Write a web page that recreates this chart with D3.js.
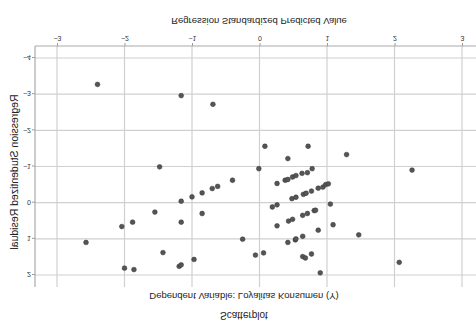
<!DOCTYPE html>
<html>
<head>
<meta charset="utf-8">
<script src="https://cdn.jsdelivr.net/npm/d3@7"></script>
<style>
  body { margin: 0; background: #fff; }
  text { font-family: "Liberation Sans", Arial, sans-serif; fill: #222; }
</style>
</head>
<body>
<svg id="vis" width="476" height="322"></svg>
<script>
var W = 476, H = 322;

// values
var predicted = [-2.40, -1.16, -0.69, -1.48, 0.08, 0.72, 0.42, 1.29, -0.01, 0.78,
                 2.26, -0.40, -0.62, -0.70, -0.85, -1.00, -1.16, -1.55, -0.85, -1.88,
                 -1.16, -2.04, -2.57, -0.25, -1.43, -0.06, -0.97, -2.00, -1.86, -1.19,
                 -1.16, 0.26, 0.38, 0.42, 0.49, 0.54, 0.63, 0.71, 1.05, 0.48,
                 0.54, 0.65, 0.69, 0.77, 0.87, 0.94, 0.98, 1.02, 0.19, 0.26,
                 0.64, 0.71, 0.81, 0.83, 0.43, 0.49, 0.26, 1.09, 0.87, 1.47,
                 0.42, 0.53, 0.54, 0.64, 0.06, 0.64, 0.68, 0.77, 0.90, 2.07];
var residual = [-3.27, -2.96, -2.72, -0.99, -1.56, -1.56, -1.22, -1.33, -0.94, -0.94,
                -0.90, -0.62, -0.45, -0.39, -0.27, -0.16, -0.04, 0.26, 0.30, 0.54,
                0.54, 0.66, 1.10, 1.01, 1.38, 1.45, 1.57, 1.81, 1.85, 1.76,
                1.72, -0.53, -0.62, -0.64, -0.71, -0.75, -0.81, -0.83, 0.04, -0.11,
                -0.15, -0.23, -0.26, -0.32, -0.40, -0.43, -0.50, -0.52, 0.12, 0.06,
                0.35, 0.30, 0.22, 0.21, 0.51, 0.46, 0.64, 0.61, 0.76, 0.89,
                1.10, 1.03, 1.00, 0.93, 1.39, 1.49, 1.53, 1.42, 1.94, 1.65];
var xTicks = [-3, -2, -1, 0, 1, 2, 3];
var yTicks = [-4, -3, -2, -1, 0, 1, 2];

var points = predicted.map(function(d, i) { return {x: d, y: residual[i]}; });

var svg = d3.select("#vis");

// the reference is mirrored top to bottom, so draw normally and flip
var g = svg.append("g")
    .attr("transform", "translate(0," + H + ") scale(1,-1)");

var plot = {left: 35, right: 480, top: 35, bottom: 276};

var x = d3.scaleLinear().domain([-3, 3]).range([57, 462]);
var y = d3.scaleLinear().domain([-4, 2]).range([264, 47]);

// grid
g.append("g").selectAll("line")
    .data(xTicks)
    .enter()
    .append("line")
    .attr("x1", d => x(d)).attr("x2", d => x(d))
    .attr("y1", plot.top).attr("y2", plot.bottom)
    .attr("stroke", "#d0d0d0").attr("stroke-width", 1.2);

g.append("g").selectAll("line")
    .data(yTicks)
    .enter()
    .append("line")
    .attr("x1", plot.left).attr("x2", plot.right)
    .attr("y1", d => y(d)).attr("y2", d => y(d))
    .attr("stroke", "#d0d0d0").attr("stroke-width", 1.2);

// axes
var fmt = d3.format("d");
var xAxis = g.append("g")
    .attr("transform", "translate(0," + plot.bottom + ")")
    .call(d3.axisBottom(x).tickValues(xTicks).tickFormat(fmt).tickSize(3).tickSizeOuter(0));

var yAxis = g.append("g")
    .attr("transform", "translate(" + plot.left + ",0)")
    .call(d3.axisLeft(y).tickValues(yTicks).tickFormat(fmt).tickSize(3).tickSizeOuter(0));

[xAxis, yAxis].forEach(function(a) {
    a.select(".domain").remove();
    a.selectAll(".tick line").attr("stroke", "#999");
    a.selectAll(".tick text")
        .style("font-size", "7px")
        .style("fill", "#333");
});
xAxis.selectAll(".tick text").attr("y", 5).attr("dy", "0.71em");
yAxis.selectAll(".tick text").attr("x", -4);

// frame lines
g.append("line")
    .attr("x1", plot.left).attr("x2", plot.right)
    .attr("y1", plot.bottom).attr("y2", plot.bottom)
    .attr("stroke", "#aaa").attr("stroke-width", 1.2);
g.append("line")
    .attr("x1", plot.left).attr("x2", plot.left)
    .attr("y1", plot.top).attr("y2", plot.bottom)
    .attr("stroke", "#aaa").attr("stroke-width", 1.2);

// points
g.append("g").selectAll("circle")
    .data(points)
    .enter()
    .append("circle")
    .attr("cx", d => x(d.x))
    .attr("cy", d => y(d.y))
    .attr("r", 2.4)
    .attr("fill", "#555")
    .attr("stroke", "#333")
    .attr("stroke-width", 0.5);

// titles
g.append("text")
    .attr("x", 244).attr("y", 7).attr("dy", "0.35em")
    .attr("text-anchor", "middle")
    .style("font-size", "10px")
    .text("Scatterplot");

g.append("text")
    .attr("x", 244).attr("y", 26).attr("dy", "0.35em")
    .attr("text-anchor", "middle")
    .style("font-size", "9.5px")
    .text("Dependent Variable: Loyalitas Konsumen (Y)");

g.append("text")
    .attr("x", 259).attr("y", 301).attr("dy", "0.35em")
    .attr("text-anchor", "middle")
    .style("font-size", "9.5px")
    .text("Regression Standardized Predicted Value");

g.append("text")
    .attr("transform", "translate(14,150) rotate(-90)")
    .attr("dy", "0.35em")
    .attr("text-anchor", "middle")
    .style("font-size", "10.5px")
    .text("Regression Studentized Residual");
</script>
</body>
</html>
